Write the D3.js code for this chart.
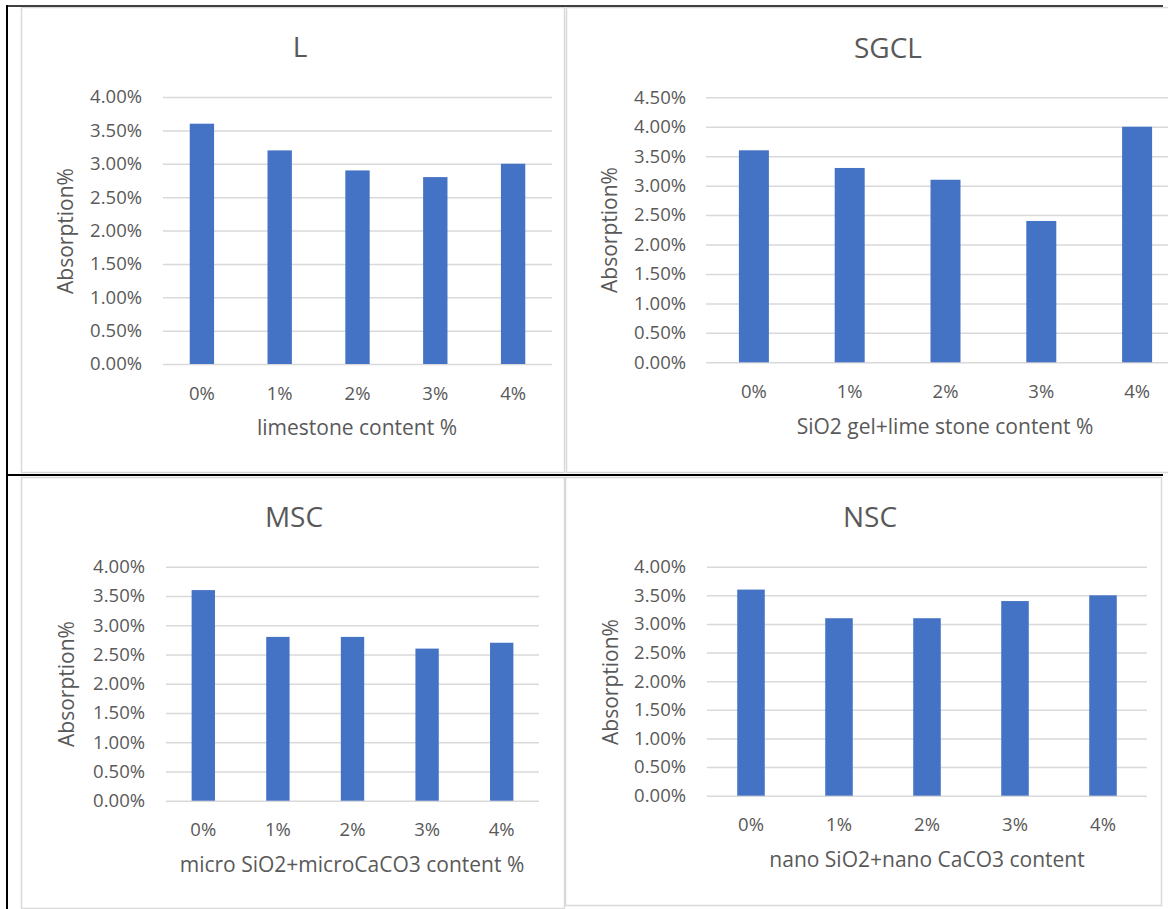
<!DOCTYPE html>
<html>
<head>
<meta charset="utf-8">
<script src="https://cdn.jsdelivr.net/npm/d3@7"></script>
<style>
  html, body { margin: 0; padding: 0; background: #fff; }
  svg { display: block; }
  text { font-family: "Open Sans", "Noto Sans", sans-serif; fill: #595959; }
</style>
</head>
<body>
<svg id="chart" width="1168" height="909"></svg>
<script>
// ---- data ----
const categories = ["0%", "1%", "2%", "3%", "4%"];
const valuesL    = [3.6, 3.2, 2.9, 2.8, 3.0];
const valuesSGCL = [3.6, 3.3, 3.1, 2.4, 4.0];
const valuesMSC  = [3.6, 2.8, 2.8, 2.6, 2.7];
const valuesNSC  = [3.6, 3.1, 3.1, 3.4, 3.5];
const chartTitles = ["L", "SGCL", "MSC", "NSC"];
const xAxisTitles = ["limestone content %", "SiO2 gel+lime stone content %",
                     "micro SiO2+microCaCO3 content %", "nano SiO2+nano CaCO3 content"];
const yAxisTitle = "Absorption%";
const yTicks4  = [0, 0.5, 1, 1.5, 2, 2.5, 3, 3.5, 4];
const yTicks45 = [0, 0.5, 1, 1.5, 2, 2.5, 3, 3.5, 4, 4.5];

// ---- layout (positions only) ----
const panels = [
  { values: valuesL, ticks: yTicks4, box: [21, 7, 564, 472],
    x: [163, 552], y: [364, 97], tickRight: 142, title: [300, 57],
    yTitle: [73, 231], xTickBase: 400, xLabel: [357, 435] },
  { values: valuesSGCL, ticks: yTicks45, box: [566, 7, 1180, 472],
    x: [706, 1185], y: [362.3, 97.3], tickRight: 686, title: [888, 58],
    yTitle: [617, 230], xTickBase: 398, xLabel: [945, 434] },
  { values: valuesMSC, ticks: yTicks4, box: [21, 477, 564, 908],
    x: [166, 539], y: [800.7, 566.7], tickRight: 145, title: [294, 527],
    yTitle: [74, 684], xTickBase: 836, xLabel: [352, 872] },
  { values: valuesNSC, ticks: yTicks4, box: [565, 477, 1161, 905],
    x: [707, 1147], y: [795.7, 566.7], tickRight: 686, title: [870, 527],
    yTitle: [618, 682], xTickBase: 831, xLabel: [927, 867] }
];

const svg = d3.select("#chart");
svg.append("rect").attr("width", 1168).attr("height", 909).attr("fill", "#fff");

panels.forEach((p, i) => {
  const g = svg.append("g");
  // chart box
  g.append("rect")
    .attr("x", p.box[0] + 0.5).attr("y", p.box[1] + 0.5)
    .attr("width", p.box[2] - p.box[0]).attr("height", p.box[3] - p.box[1])
    .attr("fill", "#fff").attr("stroke", "#d9d9d9").attr("stroke-width", 1.5);

  const x = d3.scaleBand().domain(categories).range(p.x)
    .paddingInner(0.687).paddingOuter(0.3435);
  const y = d3.scaleLinear().domain([0, d3.max(p.ticks)]).range(p.y);
  const w = p.x[1] - p.x[0];

  // gridlines
  const grid = g.append("g").attr("transform", `translate(${p.x[0]},0)`)
    .call(d3.axisLeft(y).tickValues(p.ticks).tickSize(-w).tickFormat(""));
  grid.select(".domain").remove();
  grid.selectAll("line").attr("stroke", "#d9d9d9").attr("stroke-width", 1.5);

  // y tick labels
  const ya = g.append("g").attr("transform", `translate(${p.x[0]},0)`)
    .call(d3.axisLeft(y).tickValues(p.ticks).tickSize(0)
      .tickPadding(p.x[0] - p.tickRight).tickFormat(d => d.toFixed(2) + "%"));
  ya.select(".domain").remove();
  ya.selectAll("text").attr("font-size", 18.5).attr("fill", "#595959")
    .attr("font-family", "'Open Sans', sans-serif");

  // bars
  g.append("g").selectAll("rect").data(p.values).join("rect")
    .attr("x", (d, j) => x(categories[j]))
    .attr("width", x.bandwidth())
    .attr("y", d => y(d))
    .attr("height", d => y(0) - y(d))
    .attr("fill", "#4472c4");

  // x tick labels
  const xa = g.append("g").attr("transform", `translate(0,${p.y[0]})`)
    .call(d3.axisBottom(x).tickSize(0));
  xa.select(".domain").remove();
  xa.selectAll("text").attr("dy", null).attr("y", p.xTickBase - p.y[0])
    .attr("font-size", 18.5).attr("fill", "#595959")
    .attr("font-family", "'Open Sans', sans-serif");

  // titles
  g.append("text").attr("x", p.title[0]).attr("y", p.title[1])
    .attr("text-anchor", "middle").attr("font-size", 28).text(chartTitles[i]);
  g.append("text").attr("transform", `translate(${p.yTitle[0]},${p.yTitle[1]}) rotate(-90)`)
    .attr("text-anchor", "middle").attr("font-size", 21).text(yAxisTitle);
  g.append("text").attr("x", p.xLabel[0]).attr("y", p.xLabel[1])
    .attr("text-anchor", "middle").attr("font-size", 21).text(xAxisTitles[i]);
});

// black table lines
svg.append("line").attr("x1", 7).attr("x2", 7).attr("y1", 5).attr("y2", 909)
  .attr("stroke", "#000").attr("stroke-width", 2);
svg.append("line").attr("x1", 6).attr("x2", 1163).attr("y1", 6).attr("y2", 6)
  .attr("stroke", "#000").attr("stroke-width", 1.5);
svg.append("line").attr("x1", 6).attr("x2", 1163).attr("y1", 475).attr("y2", 475)
  .attr("stroke", "#000").attr("stroke-width", 2);
</script>
</body>
</html>
